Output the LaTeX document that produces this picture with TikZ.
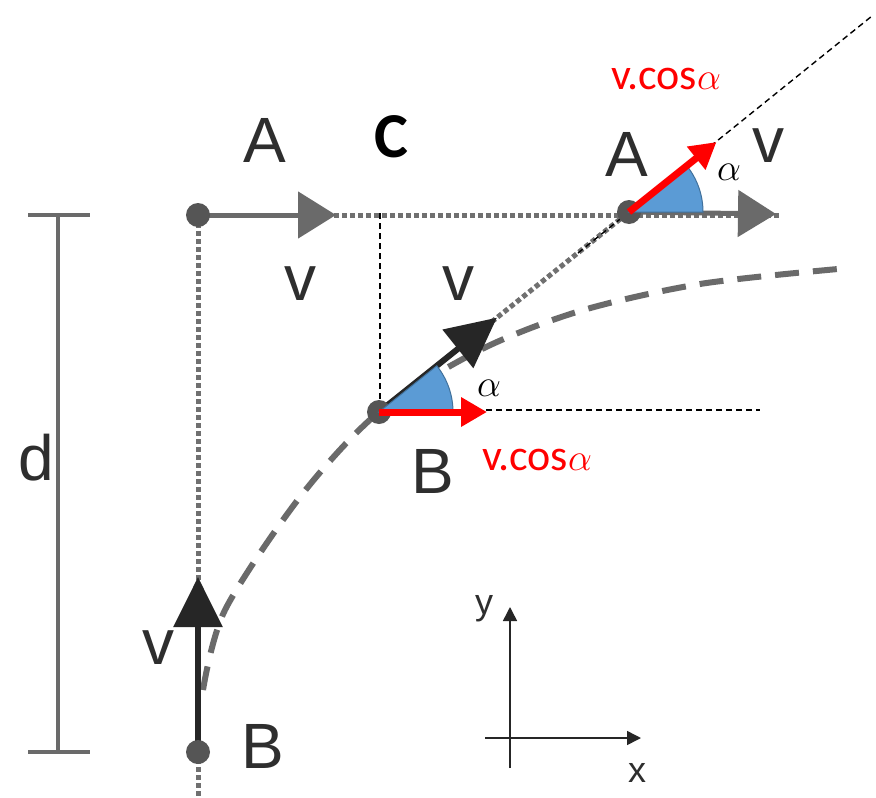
\documentclass[tikz,border=0pt]{standalone}
\usepackage{fix-cm}
\usepackage{fontspec}
\setmainfont{Liberation Sans}
\newfontfamily\calib{Carlito}
\usetikzlibrary{arrows.meta,calc}
\definecolor{dotgray}{HTML}{555555}
\definecolor{linegray}{HTML}{6A6A6A}
\definecolor{dotline}{HTML}{707070}
\definecolor{darkarrow}{HTML}{262626}
\definecolor{lbl}{HTML}{2E2E2E}
\definecolor{wedgefill}{HTML}{5B9BD5}
\definecolor{wedgeline}{HTML}{41719C}
\tikzset{
  dotnode/.style={circle,fill=dotgray,minimum size=24pt,inner sep=0pt},
  bigl/.style={text=lbl,font=\fontsize{64}{64}\selectfont,inner sep=0pt},
  redl/.style={text=red,font=\calib\fontsize{44}{44}\selectfont,inner sep=0pt},
  alphal/.style={font=\fontsize{38}{38}\selectfont,inner sep=0pt},
  axl/.style={text=lbl,font=\fontsize{36}{36}\selectfont,inner sep=0pt},
  dotted gray/.style={dotline,line width=5pt,dash pattern=on 5pt off 3pt},
  traj/.style={linegray,line width=6pt,dash pattern=on 24pt off 14pt},
  thindash/.style={black,line width=1.4pt,dash pattern=on 6pt off 4pt},
  grayarrow/.style={linegray,line width=5pt,-{Triangle[length=38pt,width=46pt]}},
  blackarrow/.style={darkarrow,line width=6pt,-{Triangle[length=50pt,width=48pt]}},
  redarrow/.style={red,line width=7pt,-{Triangle[length=26pt,width=28pt]}},
  wedge/.style={fill=wedgefill,draw=wedgeline,line width=1pt},
  axis/.style={darkarrow,line width=1.5pt,-{Triangle[length=14pt,width=14pt]}}
}
\newcommand{\smallalpha}{{\fontsize{38}{38}\selectfont$\alpha$}}
\begin{document}
\begin{tikzpicture}[x=1pt,y=-1pt]
\useasboundingbox[fill=white] (0,0) rectangle (876,798);
% key points
\coordinate (Atop) at (198,215);
\coordinate (Bbot) at (198,752);
\coordinate (Bmid) at (379,412);
\coordinate (Aright) at (629,212);
\coordinate (topend) at (780,215);
\coordinate (leftend) at (198,798);
\coordinate (Cfoot) at (380,213);
\coordinate (Chead) at (380,410);
\coordinate (hstart) at (486,410);
\coordinate (hend) at (760,410);
\coordinate (dgA) at (578,253);
\coordinate (dgB) at (872,16);
% d bar
\coordinate (dT) at (58,215);
\coordinate (dB) at (58,752);
\draw[linegray,line width=4pt] (dT) -- (dB);
\draw[linegray,line width=4pt] (28,215) -- (90,215);
\draw[linegray,line width=4pt] (28,752) -- (90,752);
% dotted gray lines
\draw[dotted gray] (Atop) -- (topend);
\draw[dotted gray] (Atop) -- (leftend);
\draw[dotted gray] (Bmid) -- (Aright);
% trajectory
\draw[traj] plot[smooth,tension=0.5] coordinates {(203,690) (225,610) (300,497) (379,412) (480,350) (580,311) (700,284) (838,269)};
% thin dashed lines
\draw[thindash] (Cfoot) -- (Chead);
\draw[thindash] (hstart) -- (hend);
\draw[thindash] (dgA) -- (dgB);
% gray arrows
\draw[grayarrow] (Atop) -- (336,215);
\draw[grayarrow] (Aright) -- (776,214);
% black arrows
\draw[blackarrow] (Bbot) -- (198,577);
\draw[blackarrow] (Bmid) -- ($(Bmid)+(-38.66:151)$);
% dots
\node[dotnode] (nA1) at (Atop) {};
\node[dotnode] (nB1) at (Bbot) {};
\node[dotnode] (nB2) at (Bmid) {};
\node[dotnode] (nA2) at (Aright) {};
% wedges
\draw[wedge] (Bmid) -- ++(0:74) arc[start angle=0,end angle=-38.66,radius=74] -- cycle;
\draw[wedge] (Aright) -- ++(0:74) arc[start angle=0,end angle=-38.66,radius=74] -- cycle;
% red arrows
\draw[redarrow] (Bmid) -- (487,412);
\draw[redarrow] (Aright) -- ++(-38.66:112);
% labels
\node[bigl] (lA1) at (265,140) {A};
\node[font=\calib\bfseries\fontsize{64}{64}\selectfont,inner sep=0pt] (lC) at (391,137) {C};
\node[bigl] (lv1) at (300,284) {v};
\node[bigl] (lv2) at (458,284) {v};
\node[bigl] (lA2) at (627,154) {A};
\node[bigl] (lv3) at (768,146) {v};
\node[bigl] (lB2) at (433,471) {B};
\node[bigl] (lB1) at (263,746) {B};
\node[bigl] (lv4) at (158,648) {v};
\node[bigl] (ld) at (36,458) {d};
\node[alphal] (al1) at (489,388) {$\alpha$};
\node[alphal] (al2) at (729,172) {$\alpha$};
\node[redl] (rc1) at (666,79) {v.cos\smallalpha};
\node[redl] (rc2) at (537,460) {v.cos\smallalpha};
% axes
\coordinate (o1) at (510,768);
\coordinate (o2) at (485,738);
\draw[axis] (o1) -- (510,607);
\draw[axis] (o2) -- (641,738);
\node[axl] (ly) at (484,609) {y};
\node[axl] (lx) at (637,773) {x};
\end{tikzpicture}
\end{document}
